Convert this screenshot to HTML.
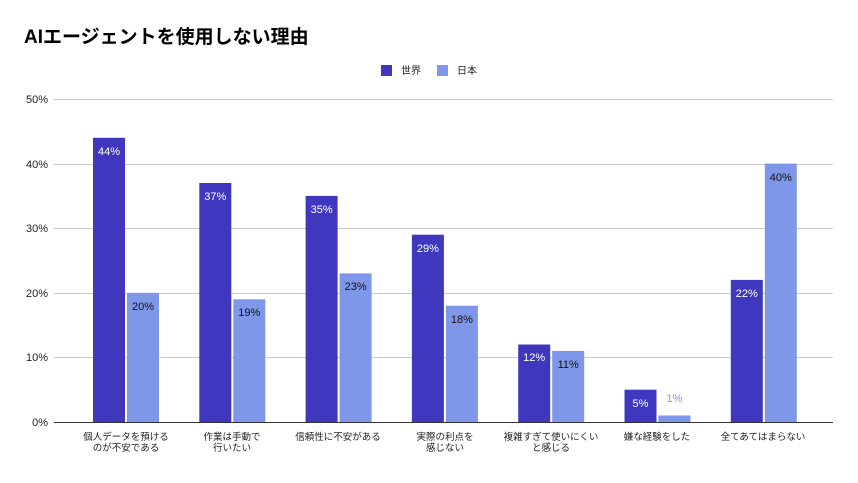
<!DOCTYPE html>
<html><head><meta charset="utf-8"><style>
body{margin:0;background:#fff;}
svg text{font-family:"Liberation Sans","Noto Sans CJK JP",sans-serif;}
</style></head><body>
<svg width="858" height="478" xmlns="http://www.w3.org/2000/svg">
<rect width="858" height="478" fill="#fff"/>
<text x="24" y="43" font-size="19" font-weight="bold" fill="#000">AIエージェントを使用しない理由</text>
<rect x="381" y="65" width="11" height="11" fill="#3f38bf"/>
<text x="401" y="74" font-size="10" fill="#222">世界</text>
<rect x="437" y="65" width="11" height="11" fill="#7f97e8"/>
<text x="457" y="74" font-size="10" fill="#222">日本</text>
<g stroke="#ccc" stroke-width="1">
<line x1="54" x2="833" y1="99.5" y2="99.5"/>
<line x1="54" x2="833" y1="164.5" y2="164.5"/>
<line x1="54" x2="833" y1="228.5" y2="228.5"/>
<line x1="54" x2="833" y1="293.5" y2="293.5"/>
<line x1="54" x2="833" y1="357.5" y2="357.5"/>
</g>
<g font-size="11" fill="#222" text-anchor="end">
<text x="48" y="103">50%</text><text x="48" y="168">40%</text><text x="48" y="232">30%</text>
<text x="48" y="297">20%</text><text x="48" y="361">10%</text><text x="48" y="426">0%</text>
</g>
<g fill="#3f38bf">
<rect x="93" y="137.8" width="32" height="284.2"/>
<rect x="199.3" y="183" width="32" height="239"/>
<rect x="305.6" y="195.9" width="32" height="226.1"/>
<rect x="411.9" y="234.7" width="32" height="187.3"/>
<rect x="518.2" y="344.5" width="32" height="77.5"/>
<rect x="624.5" y="389.7" width="32" height="32.3"/>
<rect x="730.8" y="279.9" width="32" height="142.1"/>
</g>
<g fill="#7f97e8">
<rect x="127" y="292.8" width="32" height="129.2"/>
<rect x="233.3" y="299.3" width="32" height="122.7"/>
<rect x="339.6" y="273.4" width="32" height="148.6"/>
<rect x="445.9" y="305.7" width="32" height="116.3"/>
<rect x="552.2" y="350.9" width="32" height="71.1"/>
<rect x="658.5" y="415.5" width="32" height="6.5"/>
<rect x="764.8" y="163.6" width="32" height="258.4"/>
</g>
<g font-size="11" text-anchor="middle" fill="#fff">
<text x="109" y="155">44%</text>
<text x="215.3" y="200">37%</text>
<text x="321.6" y="213">35%</text>
<text x="427.9" y="252">29%</text>
<text x="534.2" y="361">12%</text>
<text x="640.5" y="407">5%</text>
<text x="746.8" y="297">22%</text>
</g>
<g font-size="11" text-anchor="middle" fill="#111">
<text x="143" y="310">20%</text>
<text x="249.3" y="316">19%</text>
<text x="355.6" y="290">23%</text>
<text x="461.9" y="323">18%</text>
<text x="568.2" y="368">11%</text>
<text x="674.5" y="402" fill="#7f97e8">1%</text>
<text x="780.8" y="181">40%</text>
</g>
<line x1="54" x2="833" y1="422.5" y2="422.5" stroke="#333" stroke-width="1"/>
<g font-size="9.5" fill="#222" text-anchor="middle">
<text x="126" y="440">個人データを預ける</text><text x="126" y="451">のが不安である</text>
<text x="232" y="440">作業は手動で</text><text x="232" y="451">行いたい</text>
<text x="338" y="440">信頼性に不安がある</text>
<text x="445" y="440">実際の利点を</text><text x="445" y="451">感じない</text>
<text x="551" y="440">複雑すぎて使いにくい</text><text x="551" y="451">と感じる</text>
<text x="657" y="440">嫌な経験をした</text>
<text x="763" y="440">全てあてはまらない</text>
</g>
</svg>
</body></html>
